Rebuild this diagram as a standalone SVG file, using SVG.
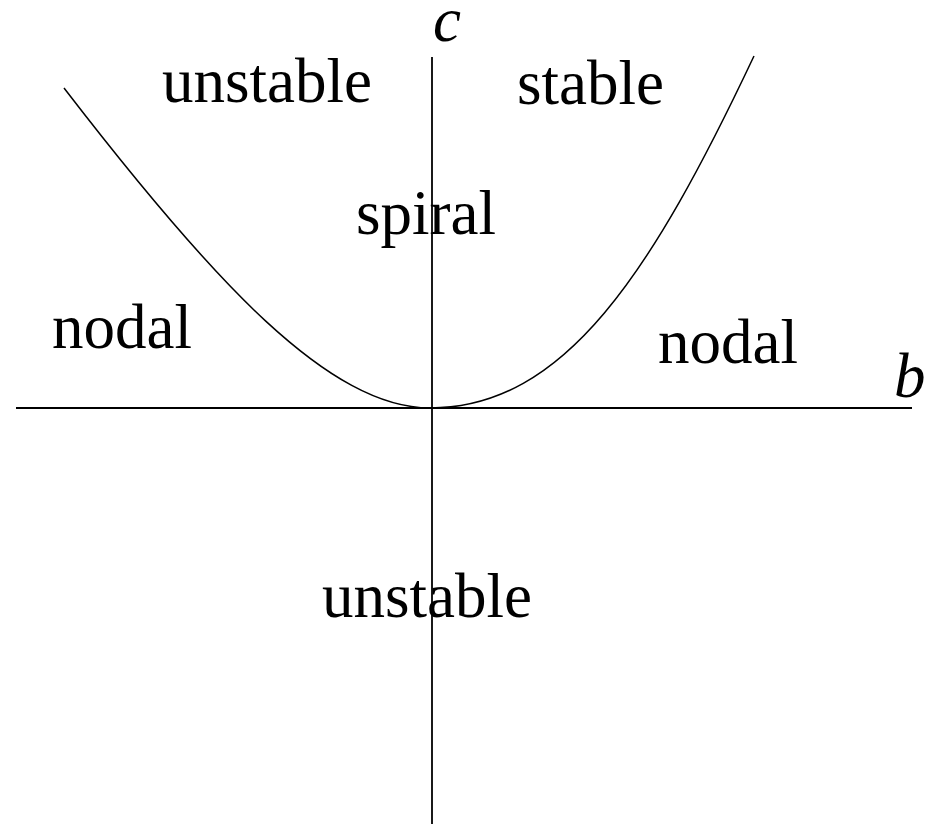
<svg xmlns="http://www.w3.org/2000/svg" width="934" height="824" viewBox="0 0 934 824">
<style>
.lbl{font-family:"Liberation Serif","Times New Roman",serif;font-size:63px;fill:#000}
.it{font-style:italic}
.ax{stroke:#000;fill:none}
</style>
<rect width="934" height="824" fill="#fff"/>
<g id="axes">
<line class="ax" x1="16" y1="408" x2="912" y2="408" stroke-width="2"/>
<line class="ax" x1="432" y1="57" x2="432" y2="824" stroke-width="1.8"/>
</g>
<g id="curve">
<path class="ax" stroke-width="1.5" d="M64,88 C214,283 330,408 430,408 C565,408 652,272 754,56"/>
</g>
<g id="labels">
<text class="lbl it" x="433" y="41">c</text>
<text class="lbl it" x="894" y="397">b</text>
<text class="lbl" x="162" y="102">unstable</text>
<text class="lbl" x="517" y="104">stable</text>
<text class="lbl" x="356" y="234">spiral</text>
<text class="lbl" x="52" y="348">nodal</text>
<text class="lbl" x="658" y="363">nodal</text>
<text class="lbl" x="322" y="617">unstable</text>
</g>
</svg>
